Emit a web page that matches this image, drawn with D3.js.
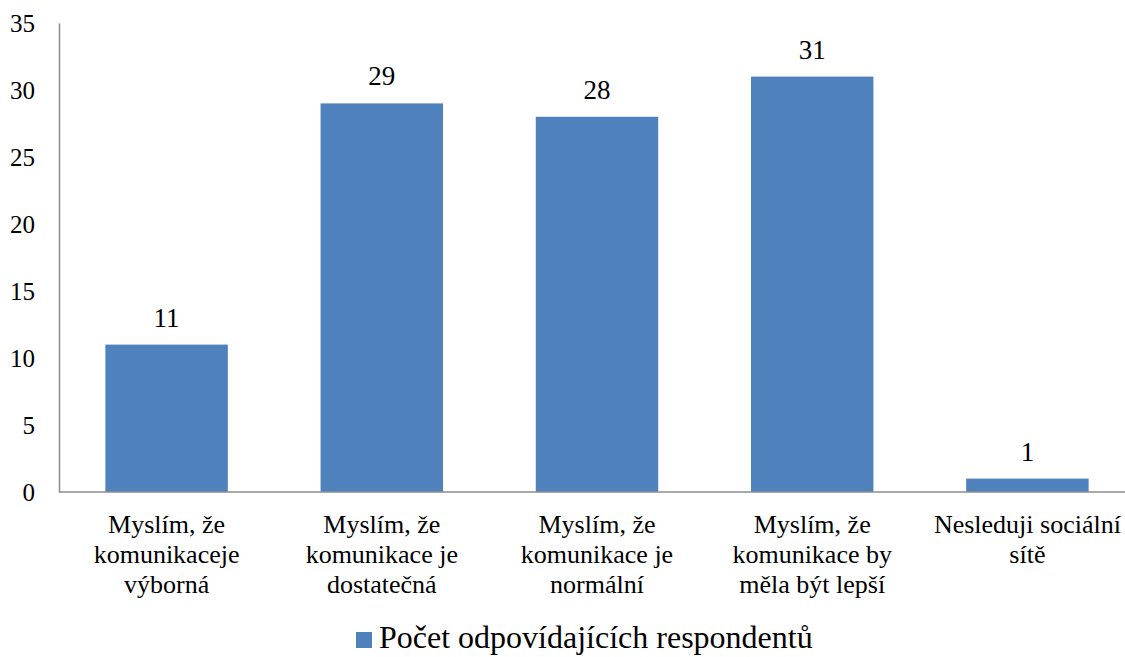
<!DOCTYPE html>
<html>
<head>
<meta charset="utf-8">
<script src="https://cdn.jsdelivr.net/npm/d3@7"></script>
<style>
  html, body { margin: 0; padding: 0; background: #fff; }
  svg { display: block; }
</style>
</head>
<body>
<svg id="chart" width="1125" height="657"></svg>
<script>
// Survey answers on social-network communication
const categories = [
  ["Myslím, že", "komunikaceje", "výborná"],
  ["Myslím, že", "komunikace je", "dostatečná"],
  ["Myslím, že", "komunikace je", "normální"],
  ["Myslím, že", "komunikace by", "měla být lepší"],
  ["Nesleduji sociální", "sítě"]
];
const values = [11, 29, 28, 31, 1];
const yTicks = [0, 5, 10, 15, 20, 25, 30, 35];
const seriesName = "Počet odpovídajících respondentů";

const svg = d3.select("#chart");
const W = 1125, H = 657;
const plotLeft = 59, plotRight = 1135, plotTop = 23, plotBottom = 492;
const serif = '"Liberation Serif"';

const x = d3.scaleBand()
  .domain(d3.range(categories.length))
  .range([plotLeft, plotRight])
  .paddingInner(0.431)
  .paddingOuter(0.2155);

const y = d3.scaleLinear().domain([0, 35]).range([plotBottom, plotTop]);

// y axis
const yAxis = svg.append("g")
  .attr("transform", `translate(${plotLeft},0)`)
  .call(d3.axisLeft(y).tickValues(yTicks).tickSize(0).tickPadding(24));
yAxis.select(".domain").attr("stroke", "#8c8c8c").attr("stroke-width", 1.5);
yAxis.selectAll("text")
  .attr("fill", "#000")
  .style("font-family", serif)
  .style("font-size", "25px");

// bars
svg.append("g").selectAll("rect")
  .data(values)
  .join("rect")
  .attr("x", (d, i) => x(i))
  .attr("width", x.bandwidth())
  .attr("y", d => y(d))
  .attr("height", d => y(0) - y(d))
  .attr("fill", "#4F81BD");

// x axis line
svg.append("line")
  .attr("x1", plotLeft).attr("x2", W)
  .attr("y1", y(0)).attr("y2", y(0))
  .attr("stroke", "#8c8c8c").attr("stroke-width", 1.5);

// value labels
svg.append("g").selectAll("text")
  .data(values)
  .join("text")
  .attr("x", (d, i) => x(i) + x.bandwidth() / 2)
  .attr("y", d => y(d) - 18)
  .attr("text-anchor", "middle")
  .style("font-family", serif)
  .style("font-size", "27px")
  .text(d => d);

// category labels
const cat = svg.append("g").selectAll("text")
  .data(categories)
  .join("text")
  .attr("x", (d, i) => x(i) + x.bandwidth() / 2)
  .attr("y", 533)
  .attr("text-anchor", "middle")
  .style("font-family", serif)
  .style("font-size", "26px");
cat.selectAll("tspan")
  .data(d => d)
  .join("tspan")
  .attr("x", function () { return d3.select(this.parentNode).attr("x"); })
  .attr("dy", (d, i) => i === 0 ? 0 : 30)
  .text(d => d);

// legend
const leg = svg.append("g");
leg.append("rect")
  .attr("x", 356).attr("y", 632).attr("width", 16).attr("height", 16)
  .attr("fill", "#4F81BD");
leg.append("text")
  .attr("x", 379).attr("y", 648)
  .style("font-family", serif)
  .style("font-size", "32px")
  .text(seriesName);
</script>
</body>
</html>
